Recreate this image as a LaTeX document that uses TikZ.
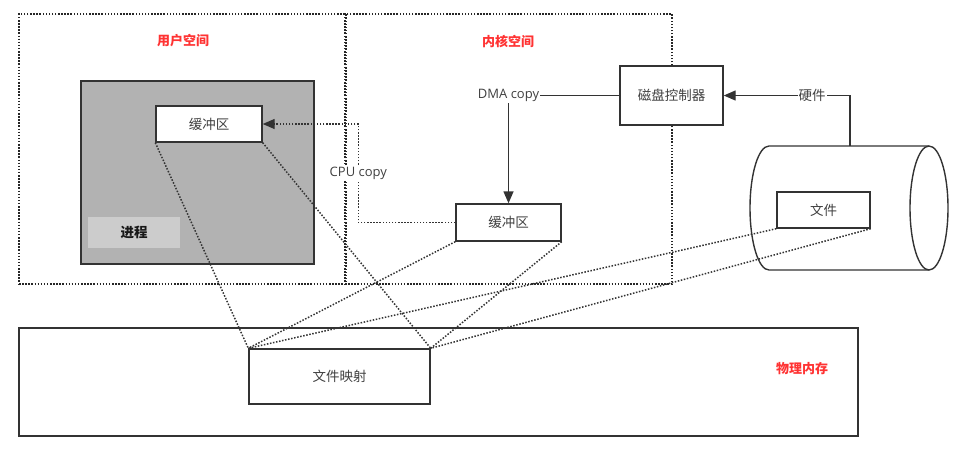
\documentclass[tikz,border=0pt]{standalone}
\usepackage{fontspec}
\newfontfamily\cjk{Noto Sans CJK SC}
\newfontfamily\latin{Open Sans}
\usepackage{xcolor}
\usepackage{tikz}
\usetikzlibrary{arrows.meta, positioning, calc}
\definecolor{titlered}{HTML}{FF3333}

\begin{document}
\begin{tikzpicture}[x=1pt, y=-1pt,
			every node/.style={font=\cjk\fontsize{13.5}{15}\selectfont, text=black!75},
			box/.style={rectangle, draw=black!80, fill=white, line width=1.4pt, inner sep=0pt},
			region/.style={rectangle, draw=black!85, line width=1.5pt, dash pattern=on 1.5pt off 1.6pt, inner sep=0pt},
			title/.style={font=\cjk\bfseries\fontsize{13}{15}\selectfont, text=titlered},
			link/.style={draw=black!80, line width=1.5pt, dash pattern=on 1.5pt off 1.6pt},
			arr/.style={-{Triangle[length=12pt, width=10pt]}, draw=black!80, line width=1.4pt},
			lbl/.style={fill=white, inner sep=1pt, font=\latin\fontsize{13}{15}\selectfont}
			]
			\useasboundingbox (0,0) rectangle (960,461);
			
			\node[region, minimum width=327pt, minimum height=270pt] (user) at (182.5,149) {};
			\node[region, minimum width=327pt, minimum height=270pt] (kernel) at (508.5,149) {};
			\node[title] (usertitle) at (183,41) {用户空间};
			\node[title] (kerneltitle) at (508,41) {内核空间};
			
			\node[box, minimum width=839pt, minimum height=108pt] (mem) at (438.5,382) {};
			\node[title] (memtitle) at (802,369) {物理内存};
			\node[box, minimum width=181pt, minimum height=55pt] (fmap) at (339.5,376.5) {文件映射};
			
			\node[box, fill=gray!60, line width=1.7pt, minimum width=233pt, minimum height=183pt] (proc) at (197.5,172.5) {};
			\node[fill=gray!40, minimum width=92pt, minimum height=31pt, inner sep=0pt,
				font=\cjk\bfseries\fontsize{13.5}{15}\selectfont, text=black!90] (proctitle) at (134,232.5) {进程};
			\node[box, minimum width=106pt, minimum height=36pt] (ubuf) at (209,124) {缓冲区};
			\node[box, minimum width=105pt, minimum height=37pt] (kbuf) at (508.5,222.5) {缓冲区};
			\node[box, minimum width=103pt, minimum height=59pt] (ctrl) at (671.5,95.5) {磁盘控制器};
			
			\draw[draw=black!80, line width=1.4pt, fill=white] (929,146) -- (769,146)
				arc[start angle=90, end angle=270, x radius=19pt, y radius=62pt] -- (929,270);
			\draw[draw=black!80, line width=1.4pt, fill=white] (929,208) ellipse [x radius=19pt, y radius=62pt];
			\coordinate (disk) at (850,146);
			\node[box, minimum width=93pt, minimum height=36pt] (file) at (823.5,210) {文件};
			
			\draw[link] (ubuf.south west) -- (fmap.north west);
			\draw[link] (ubuf.south east) -- (fmap.north east);
			\draw[link] (kbuf.south west) -- (fmap.north west);
			\draw[link] (kbuf.south east) -- (fmap.north east);
			\draw[link] (file.south west) -- (fmap.north west);
			\draw[link] (file.south east) -- (fmap.north east);
			
			\draw[arr] (ctrl.west) -| node[lbl] (dma) {DMA copy} (kbuf.north);
			\draw[arr] (disk) |- node[lbl, pos=0.65, font=\cjk\fontsize{13.5}{15}\selectfont] (hw) {硬件} (ctrl.east);
			\draw[arr, dash pattern=on 1.5pt off 1.6pt] (kbuf.west) -- ++(-97,0) |- node[lbl, pos=0.25] (cpu) {CPU copy} (ubuf.east);
		\end{tikzpicture}
\end{document}
